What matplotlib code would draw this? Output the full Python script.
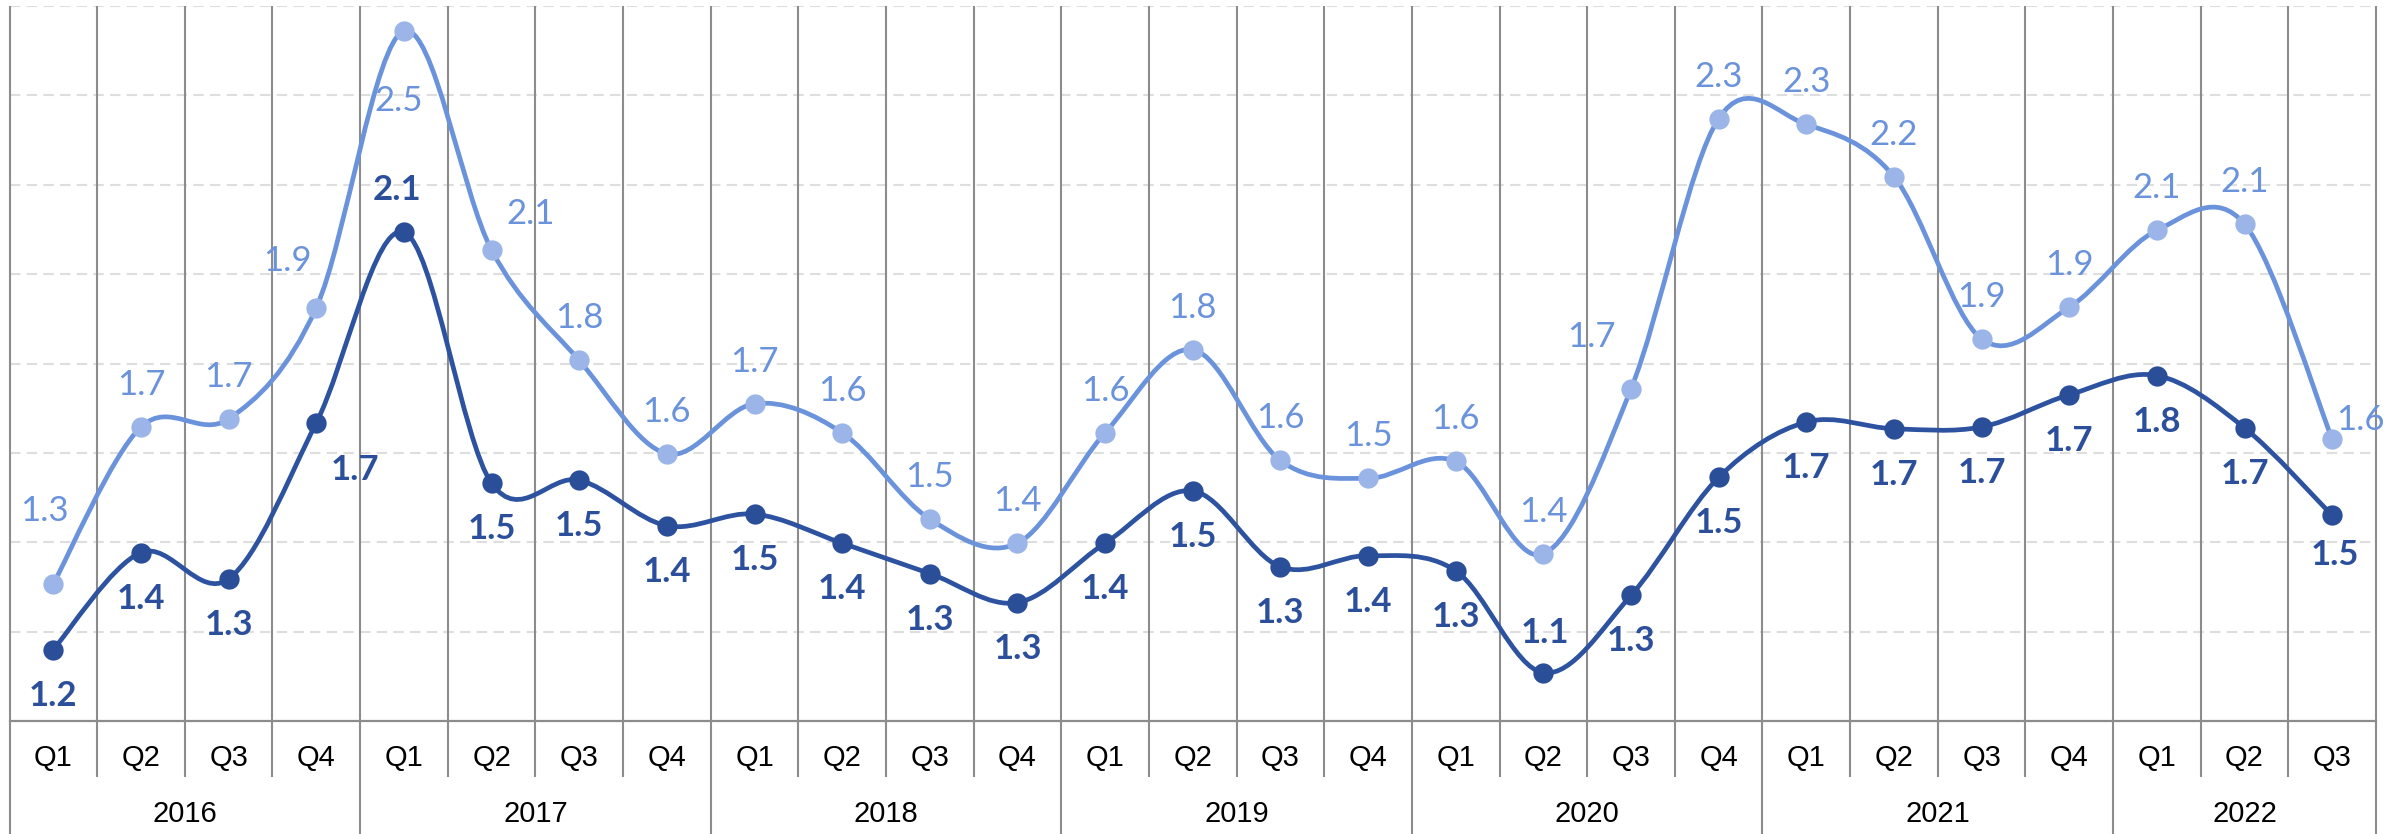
import matplotlib
matplotlib.use("Agg")
import matplotlib.pyplot as plt
from matplotlib.path import Path
from matplotlib.patches import PathPatch
import matplotlib.transforms as mtransforms

# ---------------- data ----------------
years = ["2016", "2017", "2018", "2019", "2020", "2021", "2022"]
quarters_per_year = [4, 4, 4, 4, 4, 4, 3]
quarter_labels = ["Q1", "Q2", "Q3", "Q4"] * 6 + ["Q1", "Q2", "Q3"]

series_light = [1.307, 1.658, 1.676, 1.925, 2.544, 2.054, 1.807, 1.598,
                1.710, 1.645, 1.452, 1.398, 1.645, 1.831, 1.583, 1.543,
                1.581, 1.374, 1.743, 2.348, 2.335, 2.218, 1.855, 1.926,
                2.098, 2.112, 1.631]
series_dark = [1.160, 1.377, 1.318, 1.667, 2.094, 1.532, 1.539, 1.437,
               1.463, 1.398, 1.330, 1.265, 1.398, 1.515, 1.345, 1.370,
               1.336, 1.108, 1.281, 1.545, 1.669, 1.654, 1.658, 1.730,
               1.773, 1.656, 1.460]

# ---------------- style ----------------
W, H, DPI = 2402, 834, 100
LIGHT_LINE = "#6a93dc"
LIGHT_MARK = "#9bb5e8"
LIGHT_TEXT = "#6a93dc"
DARK_LINE = "#2c52a0"
DARK_MARK = "#2a4e98"
DARK_TEXT = "#2c4f9c"
GRID_V = "#8c8c8c"
GRID_H = "#dedede"

# label offsets in pixels (dx, dy) with dy positive = up
light_default = (0, 42)
light_override = {0: (-9, 73), 3: (-29, 47), 4: (-5, -70), 5: (39, 36),
                  18: (-40, 52), 26: (28, 19)}
dark_default = (0, -46)
dark_override = {3: (39, -47), 4: (-7, 42), 17: (2, 40), 26: (3, -40)}


def smooth_path(xs, ys):
    verts = [(xs[0], ys[0])]
    codes = [Path.MOVETO]
    n = len(xs)
    for i in range(n - 1):
        p0 = (xs[i - 1], ys[i - 1]) if i > 0 else (xs[i], ys[i])
        p3 = (xs[i + 2], ys[i + 2]) if i + 2 < n else (xs[i + 1], ys[i + 1])
        c1 = (xs[i] + (xs[i + 1] - p0[0]) / 6.0, ys[i] + (ys[i + 1] - p0[1]) / 6.0)
        c2 = (xs[i + 1] - (p3[0] - xs[i]) / 6.0, ys[i + 1] - (p3[1] - ys[i]) / 6.0)
        verts += [c1, c2, (xs[i + 1], ys[i + 1])]
        codes += [Path.CURVE4] * 3
    return Path(verts, codes)


fig = plt.figure(figsize=(W / DPI, H / DPI), dpi=DPI)
left_px, right_px, top_px, axis_px = 9.5, 2376, 6, 721
ax = fig.add_axes([left_px / W, (H - axis_px) / H,
                   (right_px - left_px) / W, (axis_px - top_px) / H])

n = len(quarter_labels)
x = list(range(n))
ax.set_xlim(-0.5, n - 0.5)
ax.set_ylim(1.0, 2.6)

for s in ["top", "right", "left"]:
    ax.spines[s].set_visible(False)
ax.spines["bottom"].set_color(GRID_V)
ax.spines["bottom"].set_linewidth(1.6)
ax.set_xticks([])
ax.set_yticks([])

# horizontal dashed gridlines
for gy in [1.2, 1.4, 1.6, 1.8, 2.0, 2.2, 2.4, 2.6]:
    ax.axhline(gy, color=GRID_H, lw=1.5, ls=(0, (5, 3)), zorder=0)

# vertical gridlines and category separators
trans = mtransforms.blended_transform_factory(ax.transData, ax.transAxes)
axes_h = axis_px - top_px
q_sep_bottom = -(777 - axis_px) / axes_h
y_sep_bottom = -(H - axis_px) / axes_h
year_bounds = [0]
for q in quarters_per_year:
    year_bounds.append(year_bounds[-1] + q)
for k in range(n + 1):
    bx = k - 0.5
    low = y_sep_bottom if k in year_bounds else q_sep_bottom
    ax.plot([bx, bx], [low, 1.0], transform=trans, color=GRID_V, lw=1.5,
            clip_on=False, zorder=1, solid_capstyle="butt")

# category labels
q_y = -(758 - axis_px) / axes_h
yr_y = -(814 - axis_px) / axes_h
for i, lab in enumerate(quarter_labels):
    ax.text(i, q_y, lab, transform=trans, ha="center", va="center",
            fontsize=21, family=["Liberation Sans", "DejaVu Sans"], color="#000000")
for j, yr in enumerate(years):
    cx = (year_bounds[j] + year_bounds[j + 1] - 1) / 2.0
    ax.text(cx, yr_y, yr, transform=trans, ha="center", va="center",
            fontsize=21, family=["Liberation Sans", "DejaVu Sans"], color="#000000")

# smooth lines
for ys, lc in [(series_light, LIGHT_LINE), (series_dark, DARK_LINE)]:
    patch = PathPatch(smooth_path(x, ys), facecolor="none", edgecolor=lc,
                      lw=3.4, zorder=3, capstyle="round", joinstyle="round")
    ax.add_patch(patch)

ax.plot(x, series_light, "o", ms=14.6, color=LIGHT_MARK, mec="none", zorder=4)
ax.plot(x, series_dark, "o", ms=14.6, color=DARK_MARK, mec="none", zorder=4)

# data labels
for i, v in enumerate(series_light):
    dx, dy = light_override.get(i, light_default)
    ax.annotate(f"{v:.1f}", (i, v), xytext=(dx, dy), textcoords="offset pixels",
                ha="center", va="center", fontsize=25, color=LIGHT_TEXT,
                family=["Lato", "DejaVu Sans"], zorder=5)
for i, v in enumerate(series_dark):
    dx, dy = dark_override.get(i, dark_default)
    ax.annotate(f"{v:.1f}", (i, v), xytext=(dx, dy), textcoords="offset pixels",
                ha="center", va="center", fontsize=25, color=DARK_TEXT,
                fontweight="bold", family=["Lato", "DejaVu Sans"], zorder=5)

fig.savefig("out.png", dpi=DPI)
